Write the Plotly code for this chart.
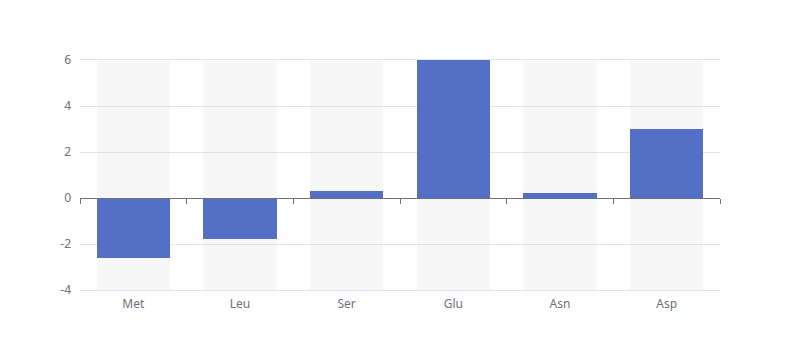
import plotly.graph_objects as go

categories = ["Met", "Leu", "Ser", "Glu", "Asn", "Asp"]
values = [-2.6, -1.8, 0.3, 6.0, 0.2, 3.0]
y_min, y_max = -4, 6
y_ticks = [-4, -2, 0, 2, 4, 6]
y_tick_text = ["-4", "-2", "0", "2", "4", "6"]

axis_color = "#6e7079"
grid_color = "#e0e6f1"
bar_color = "#5470c6"
bg_color = "rgba(180,180,180,0.1)"
bar_w = 0.69

fig = go.Figure()
fig.add_trace(go.Bar(
    x=categories, y=[y_max - y_min] * len(categories), base=[y_min] * len(categories),
    marker=dict(color=bg_color, line=dict(width=0)), width=bar_w,
    hoverinfo="skip", showlegend=False,
))
fig.add_trace(go.Bar(
    x=categories, y=values, marker=dict(color=bar_color, line=dict(width=0)),
    width=bar_w, showlegend=False,
))
fig.add_trace(go.Scatter(
    x=categories, y=[0] * len(categories), xaxis="x2", mode="markers",
    marker=dict(opacity=0), hoverinfo="skip", showlegend=False,
))

zero_pos = (0 - y_min) / (y_max - y_min)

fig.update_layout(
    width=800, height=360,
    margin=dict(l=72, r=88, t=52, b=78),
    paper_bgcolor="white", plot_bgcolor="white",
    barmode="overlay", bargap=0,
    font=dict(family="Noto Sans, DejaVu Sans, sans-serif", size=12, color=axis_color),
    xaxis=dict(
        type="category", categoryorder="array", categoryarray=categories,
        showgrid=False, zeroline=False, showline=True, mirror=True,
        linecolor=grid_color, linewidth=1, ticks="",
        tickfont=dict(size=12, color=axis_color), ticklabelstandoff=3,
    ),
    xaxis2=dict(
        type="category", categoryorder="array", categoryarray=categories,
        overlaying="x", anchor="free", position=zero_pos,
        matches="x", showgrid=False, zeroline=False,
        showline=True, linecolor=axis_color, linewidth=1,
        ticks="outside", ticklen=5, tickcolor=axis_color, tickwidth=1,
        tickson="boundaries", showticklabels=False,
    ),
    yaxis=dict(
        range=[y_min, y_max], tickvals=y_ticks, ticktext=y_tick_text, showgrid=True,
        gridcolor=grid_color, gridwidth=1, zeroline=False, showline=False,
        ticks="", tickfont=dict(size=12, color=axis_color), ticklabelstandoff=8,
    ),
)

fig.write_html("out.html")
